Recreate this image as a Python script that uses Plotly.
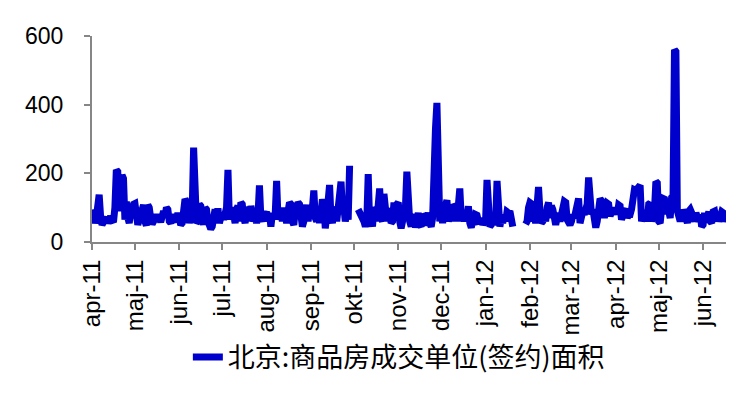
import pandas as pd
import plotly.graph_objects as go

series_name = "北京:商品房成交单位(签约)面积"

month_starts = ["2011-04-01", "2011-05-01", "2011-06-01", "2011-07-01", "2011-08-01",
                "2011-09-01", "2011-10-01", "2011-11-01", "2011-12-01", "2012-01-01",
                "2012-02-01", "2012-03-01", "2012-04-01", "2012-05-01", "2012-06-01"]
month_labels = ["apr-11", "maj-11", "jun-11", "jul-11", "aug-11", "sep-11", "okt-11", "nov-11",
                "dec-11", "jan-12", "feb-12", "mar-12", "apr-12", "maj-12", "jun-12"]

N = None
apr_2011 = [95, 62, 55, 70, 130, 138, 75, 50, 58, 62, 72, 55, 68, 75, 62, 58, 100, 210, 205, 90,
            120, 195, 185, 65, 118, 70, 55, 85, 105, 110]
may_2011 = [112, 60, 50, 65, 80, 105, 108, 60, 48, 108, 100, 70, 52, 60, 75, 80, 65, 70, 58, 85,
            90, 75, 100, 95, 60, 55, 70, 80, 65, 60, 85]
jun_2011 = [70, 50, 55, 120, 125, 118, 60, 55, 80, 90, 275, 70, 55, 60, 110, 105, 70, 50, 100, 95,
            60, 40, 38, 45, 90, 95, 60, 98, 55, 70]
jul_2011 = [85, 65, 95, 100, 210, 65, 90, 100, 70, 55, 95, 105, 60, 115, 110, 70, 55, 100, 95, 60,
            105, 85, 60, 75, 55, 80, 165, 70, 60, 85, 80]
aug_2011 = [88, 60, 85, 45, 80, 70, 80, 178, 65, 90, 95, 60, 100, 80, 55, 90, 115, 110, 60, 50,
            90, 100, 115, 110, 60, 45, 60, 105, 108, 60, 95]
sep_2011 = [90, 100, 150, 70, 60, 90, 55, 85, 124, 110, 40, 75, 120, 166, 70, 55, 100, 95, 60, 95,
            110, 176, 95, 100, 60, 90, 65, 222, N, N]
okt_2011 = [N, N, N, 95, 88, 75, 70, 60, 45, 60, 198, 55, 70, 45, 100, 95, 60, 90, 156, 70,
            60, 140, 90, 60, 95, 90, 55, 60, 115, 85, 110]
nov_2011 = [115, 60, 40, 60, 90, 100, 205, 95, 60, 45, 80, 70, 42, 60, 85, 50, 45, 80, 75, 48,
            60, 85, 55, 45, 70, 326, 330, 405, 95, 60]
dec_2011 = [85, 55, 90, 120, 122, 60, 80, 95, 60, 110, 105, 60, 120, 156, 70, 85, 60, 90, 75, 104,
            55, 42, 60, 50, 80, 78, 60, 55, 70, 50, 60]
jan_2012 = [60, 181, 60, 45, 50, 75, 60, 50, 178, 60, 45, 70, 55, 80, 60, 88, 85, 90, 55, 45,
            N, N, N, N, N, N, N, N, 52, 60, 100]
feb_2012 = [115, 112, 60, 75, 55, 90, 160, 90, 55, 60, 80, 60, 100, 115, 70, 105, 95, 55, 50, 70,
            85, 60, 75, 90, 118, 115, 65, 55, 50]
mar_2012 = [60, 80, 70, 100, 126, 127, 55, 70, 90, 80, 95, 110, 188, 90, 80, 95, 60, 42, 60, 100,
            126, 120, 85, 70, 95, 113, 110, 75, 90, 100, 85]
apr_2012 = [95, 80, 108, 105, 65, 85, 90, 97, 70, 80, 80, 95, 150, 152, 150, 155, 166, 165, 60, 75,
            90, 85, 60, 110, 113, 60, 80, 90, 176, 172]
may_2012 = [60, 55, 95, 127, 125, 80, 126, 90, 70, 130, 135, 560, 555, 90, 70, 60, 75, 93, 85, 60,
            55, 90, 95, 85, 70, 60, 85, 70, 60, 80, 45]
jun_2012 = [50, 85, 60, 75, 88, 60, 55, 88, 90, 65, 85, 60, 70, 88, 85, 60, 72]

monthly = [apr_2011, may_2011, jun_2011, jul_2011, aug_2011, sep_2011, okt_2011, nov_2011,
           dec_2011, jan_2012, feb_2012, mar_2012, apr_2012, may_2012, jun_2012]

dates, values = [], []
for start, vals in zip(month_starts, monthly):
    d = pd.date_range(start, periods=len(vals), freq="D")
    dates.extend(d)
    values.extend(vals)

fig = go.Figure()
fig.add_trace(go.Scatter(
    x=dates, y=values, mode="lines", name=series_name,
    line=dict(color="#0000CC", width=7),
    connectgaps=False,
))

axis_color = "#868686"
ytick_font = dict(family="Liberation Sans, Arial, sans-serif", size=23, color="#000000")
xtick_font = dict(family="Liberation Sans, Arial, sans-serif", size=24, color="#000000")

fig.update_layout(
    width=741, height=394,
    margin=dict(l=84, r=23, t=28, b=160, autoexpand=False),
    paper_bgcolor="white", plot_bgcolor="white",
    showlegend=True,
    legend=dict(
        orientation="h", x=0.484, xanchor="center", y=-0.56, yanchor="middle",
        font=dict(family="Noto Sans CJK SC, sans-serif", size=27, color="#000000"),
        bgcolor="rgba(0,0,0,0)",
    ),
    xaxis=dict(
        type="date", range=[dates[0], dates[-1]], automargin=False,
        tickvals=month_starts, ticktext=month_labels, tickangle=-90,
        ticks="outside", ticklen=6, tickwidth=1.5, tickcolor=axis_color,
        showline=True, linecolor=axis_color, linewidth=2,
        showgrid=False, zeroline=False, tickfont=xtick_font,
    ),
    yaxis=dict(
        range=[0, 600], tickvals=[0, 200, 400, 600], automargin=False,
        ticks="outside", ticklen=6, tickwidth=1.5, tickcolor=axis_color,
        ticklabelstandoff=16,
        showline=True, linecolor=axis_color, linewidth=2,
        showgrid=False, zeroline=False, tickfont=ytick_font,
    ),
)

fig.write_html("out.html")
